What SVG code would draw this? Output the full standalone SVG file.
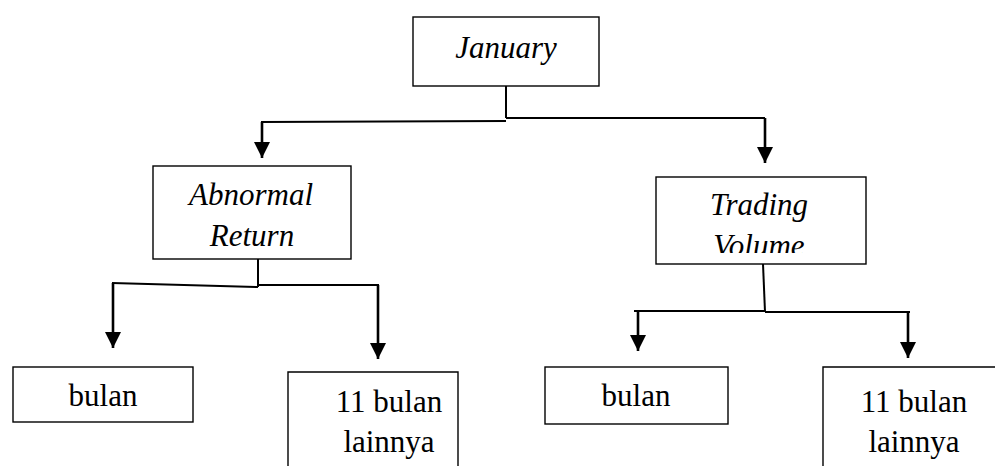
<svg xmlns="http://www.w3.org/2000/svg" width="995" height="466" viewBox="0 0 995 466">
<style>
.box{fill:#fff;stroke:#000;stroke-width:1.4}
.t{font-family:"Liberation Serif","Times New Roman",serif;font-size:31px;fill:#000;text-anchor:middle}
.i{font-style:italic}
.c{fill:none;stroke:#000;stroke-width:2}
.a{fill:none;stroke:#000;stroke-width:2.6}
</style>
<defs>
<marker id="ah" markerUnits="userSpaceOnUse" markerWidth="17" markerHeight="17" viewBox="0 0 17 17" refX="16" refY="8" orient="auto">
<path d="M0,0 L16,8 L0,16 Z" fill="#000"/>
</marker>
<clipPath id="tvclip"><rect x="656" y="176" width="210" height="77"/></clipPath>
</defs>
<rect width="995" height="466" fill="#fff"/>
<g id="connectors">
<path class="c" d="M506,86 V118"/>
<path class="c" d="M506,121 L261,122"/>
<path class="c" d="M506,118 L765,118"/>
<path class="a" d="M262,122 V158" marker-end="url(#ah)"/>
<path class="a" d="M765,118 V163" marker-end="url(#ah)"/>
<path class="c" d="M258,259 V287"/>
<path class="c" d="M258,287 L112,283"/>
<path class="c" d="M258,285 L379,285"/>
<path class="a" d="M113,283 V348" marker-end="url(#ah)"/>
<path class="a" d="M378,285 V359" marker-end="url(#ah)"/>
<path class="c" d="M763,264 L765,312"/>
<path class="c" d="M765,311 L634,311"/>
<path class="c" d="M765,312 L910,312"/>
<path class="a" d="M638,311 V351" marker-end="url(#ah)"/>
<path class="a" d="M908,312 V358" marker-end="url(#ah)"/>
</g>
<g id="january">
<rect class="box" x="413" y="17" width="186" height="69"/>
<text class="t i" x="506" y="58">January</text>
</g>
<g id="abnormal-return">
<rect class="box" x="153" y="166" width="198" height="93"/>
<text class="t i" x="251" y="205">Abnormal</text>
<text class="t i" x="252" y="246">Return</text>
</g>
<g id="trading-volume">
<rect class="box" x="656" y="177" width="210" height="87"/>
<g clip-path="url(#tvclip)">
<text class="t i" x="759" y="215">Trading</text>
<text class="t i" x="759" y="256">Volume</text>
</g>
</g>
<g id="bulan-left">
<rect class="box" x="13" y="367" width="180" height="55"/>
<text class="t" x="103" y="406">bulan</text>
</g>
<g id="lainnya-left">
<path class="box" d="M288,470 V372 H458 V470"/>
<text class="t" x="389" y="412">11 bulan</text>
<text class="t" x="389" y="452">lainnya</text>
</g>
<g id="bulan-right">
<rect class="box" x="545" y="367" width="183" height="57"/>
<text class="t" x="636" y="406">bulan</text>
</g>
<g id="lainnya-right">
<path class="box" d="M823,470 V367 H1000"/>
<text class="t" x="914" y="412">11 bulan</text>
<text class="t" x="914" y="452">lainnya</text>
</g>
</svg>
